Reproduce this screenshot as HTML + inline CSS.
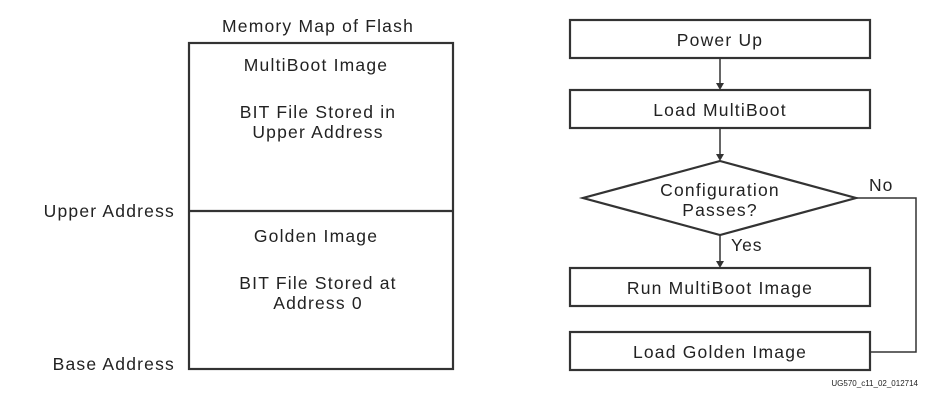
<!DOCTYPE html>
<html><head><style>body{margin:0;background:#fff}svg{display:block}</style></head><body>
<svg width="938" height="400" xmlns="http://www.w3.org/2000/svg" font-family="Liberation Sans, sans-serif" fill="#222">
<rect width="938" height="400" fill="#fff"/>
<g stroke="#333" fill="none" stroke-width="2.2">
<rect x="189" y="43" width="264" height="326"/>
<line x1="189" y1="211" x2="453" y2="211"/>
<rect x="570" y="20" width="300" height="38"/>
<rect x="570" y="90" width="300" height="38"/>
<polygon points="720,161 856,198 720,235 583,198"/>
<rect x="570" y="268" width="300" height="38"/>
<rect x="570" y="332" width="300" height="38"/>
</g>
<g stroke="#333" stroke-width="1.5" fill="none">
<line x1="720" y1="58" x2="720" y2="84"/>
<line x1="720" y1="128" x2="720" y2="155"/>
<line x1="720" y1="235" x2="720" y2="262"/>
<polyline points="856,198 916,198 916,352 870,352"/>
</g>
<g fill="#333">
<polygon points="716,83 724,83 720,90"/>
<polygon points="716,154 724,154 720,161"/>
<polygon points="716,261 724,261 720,268"/>
</g>
<g font-size="17.5" letter-spacing="1.2" text-anchor="middle">
<text x="318" y="32">Memory Map of Flash</text>
<text x="316" y="71">MultiBoot Image</text>
<text x="318" y="118">BIT File Stored in</text>
<text x="318" y="138">Upper Address</text>
<text x="316" y="242">Golden Image</text>
<text x="318" y="289">BIT File Stored at</text>
<text x="318" y="309">Address 0</text>
<text x="720" y="46">Power Up</text>
<text x="720" y="116">Load MultiBoot</text>
<text x="720" y="196">Configuration</text>
<text x="720" y="216">Passes?</text>
<text x="720" y="294">Run MultiBoot Image</text>
<text x="720" y="358">Load Golden Image</text>
</g>
<g font-size="17.5" letter-spacing="1.2" text-anchor="end">
<text x="175" y="217">Upper Address</text>
<text x="175" y="370">Base Address</text>
</g>
<text x="731" y="251" font-size="17.5" letter-spacing="1">Yes</text>
<text x="869" y="191" font-size="17.5" letter-spacing="1">No</text>
<text x="918" y="386" font-size="8" text-anchor="end">UG570_c11_02_012714</text>
</svg>
</body></html>
